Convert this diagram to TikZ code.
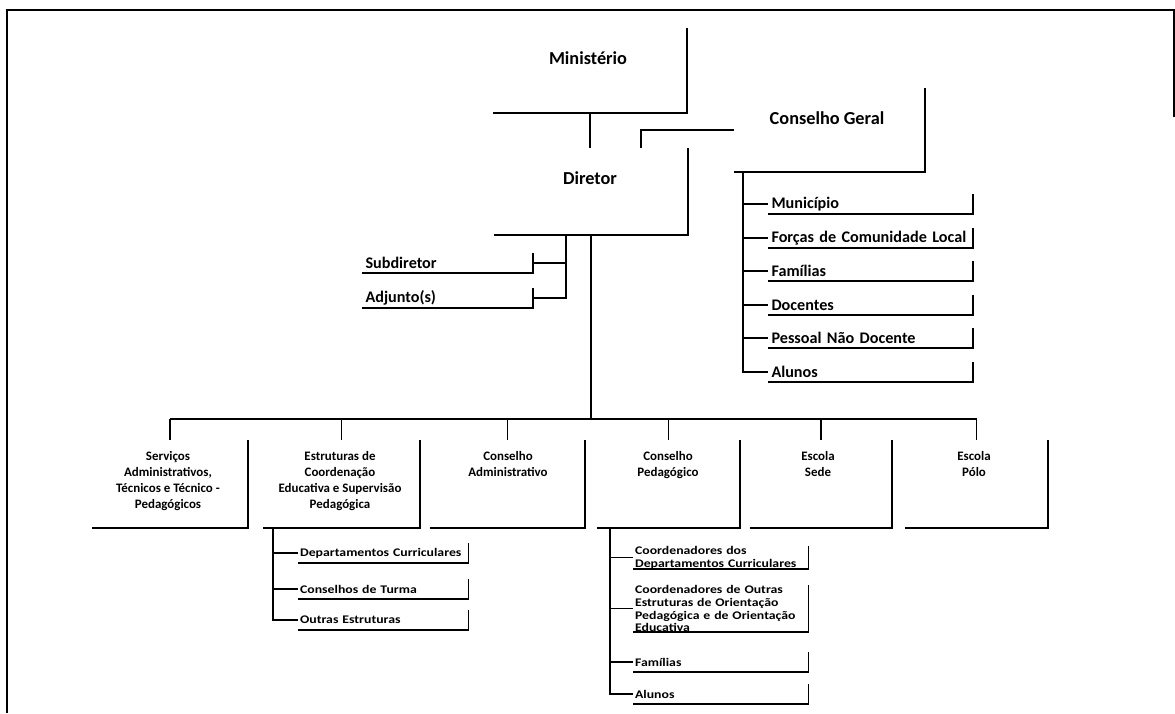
\documentclass[tikz,border=0pt]{standalone}
\usepackage{fontspec}
\setmainfont{Carlito}
\newfontfamily\widefont[FakeStretch=1.18]{Carlito}
\begin{document}
\begin{tikzpicture}[x=0.025cm,y=-0.025cm,
	wire/.style={line width=1.2pt},
	rim/.style={line width=0.9pt},
	box/.style={inner sep=0pt,outer sep=0pt},
	big/.style={font=\bfseries\fontsize{13}{15}\selectfont},
	unit/.style={font=\bfseries\fontsize{9.2}{11.3}\selectfont,align=center,anchor=north,inner sep=0pt},
	item/.style={font=\bfseries\fontsize{11.5}{13}\selectfont,text width=#1,align=left,inner xsep=2.5pt,inner ysep=0pt,minimum height=0.5cm,outer sep=0pt,anchor=west},
	lowitem/.style={item=#1,inner xsep=1.5pt,font=\widefont\bfseries\fontsize{8.3}{9.2}\selectfont}]
	\useasboundingbox (0,0) rectangle (1175,713);
	\draw[line width=1.2pt] (1174,117) -- (1174,10) -- (7,10) -- (7,713);
	
	% top boxes
	\node[box,minimum width=4.85cm,minimum height=2.125cm] (min) at (590,70.5) {};
	\node[big] (minT) at (588,58) {Ministério};
	\node[box,minimum width=4.775cm,minimum height=2.1cm] (cg) at (829.5,130) {};
	\node[big] (cgT) at (827,118) {Conselho Geral};
	\node[box,minimum width=4.85cm,minimum height=2.175cm] (dir) at (591,191.5) {};
	\node[big] (dirT) at (590,178) {Diretor};
	
	\node[item=4.1cm] (subd) at (362,263) {Subdiretor};
	\node[item=4.1cm] (adj) at (362,298) {Adjunto(s)};
	
	% conselho geral list
	\node[item=4.95cm] (gMun) at (768,204) {Município};
	\node[item=4.95cm] (gFor) at (768,238) {Forças de Comunidade Local};
	\node[item=4.95cm] (gFam) at (768,271) {Famílias};
	\node[item=4.95cm] (gDoc) at (768,305) {Docentes};
	\node[item=4.95cm] (gPes) at (768,338) {Pessoal Não Docente};
	\node[item=4.95cm] (gAlu) at (768,372) {Alunos};
	
	% bottom row
	\node[box,minimum width=3.9cm,minimum height=2.2cm] (sv) at (170,484) {};
	\node[box,minimum width=3.925cm,minimum height=2.2cm] (ec) at (341.5,484) {};
	\node[box,minimum width=3.875cm,minimum height=2.2cm] (ca) at (507.5,484) {};
	\node[box,minimum width=3.575cm,minimum height=2.2cm] (cp) at (668.5,484) {};
	\node[box,minimum width=3.55cm,minimum height=2.2cm] (es) at (821,484) {};
	\node[box,minimum width=3.575cm,minimum height=2.2cm] (ep) at (976.5,484) {};
	\node[unit] (svT) at (168,451) {Serviços\\Administrativos,\\Técnicos e Técnico -\\Pedagógicos};
	\node[unit] (ecT) at (340,451) {Estruturas de\\Coordenação\\Educativa e Supervisão\\Pedagógica};
	\node[unit] (caT) at (508,451) {Conselho\\Administrativo};
	\node[unit] (cpT) at (668,451) {Conselho\\Pedagógico};
	\node[unit] (esT) at (818,451) {Escola\\Sede};
	\node[unit] (epT) at (974,451) {Escola\\Pólo};
	
	% lower lists
	\node[lowitem=4.15cm] (eDep) at (298,553) {Departamentos Curriculares};
	\node[lowitem=4.15cm] (eTur) at (298,589) {Conselhos de Turma};
	\node[lowitem=4.15cm] (eOut) at (298,620) {Outras Estruturas};
	\node[lowitem=4.28cm] (pDep) at (633,557.5) {Coordenadores dos\\Departamentos Curriculares};
	\node[lowitem=4.28cm] (pOut) at (633,608.5) {Coordenadores de Outras\\Estruturas de Orientação\\Pedagógica e de Orientação\\Educativa};
	\node[lowitem=4.28cm] (pFam) at (633,662) {Famílias};
	\node[lowitem=4.28cm] (pAlu) at (633,694) {Alunos};
	
	\foreach \n in {min,cg,dir,subd,adj,gMun,gFor,gFam,gDoc,gPes,gAlu,sv,ec,ca,cp,es,ep,eDep,eTur,eOut,pDep,pOut,pFam,pAlu}
		\draw[rim] (\n.south west) -- (\n.south east) -- (\n.north east);
	
	% connectors
	\draw[wire] (min.south) -- (min.south |- dir.north);
	\draw[wire] (cg.west) -| ([xshift=1.25cm]dir.north);
	
	\coordinate (dsplit) at (566,235);
	\draw[wire] (dsplit) |- (adj.east);
	\draw[wire] (subd.east) -- (subd.east -| dsplit);
	
	\coordinate (gsplit) at (743,172);
	\draw[wire] (gsplit) |- (gAlu.west);
	\foreach \n in {gMun,gFor,gFam,gDoc,gPes}
		\draw[wire] (\n.west -| gsplit) -- (\n.west);
	
	\coordinate (bus) at (591,419);
	\draw[wire] (dir.south) -- (bus);
	\draw[wire] (sv.north |- bus) -- (ep.north |- bus);
	\foreach \n in {sv,ec,ca,cp,es,ep}
		\draw[wire] (\n.north |- bus) -- (\n.north);
	
	\coordinate (esplit) at (273,528);
	\draw[wire] (esplit) |- (eOut.west);
	\foreach \n in {eDep,eTur}
		\draw[wire] (\n.west -| esplit) -- (\n.west);
	
	\coordinate (psplit) at (610,528);
	\draw[wire] (psplit) |- (pAlu.west);
	\foreach \n in {pDep,pOut,pFam}
		\draw[wire] (\n.west -| psplit) -- (\n.west);
\end{tikzpicture}
\end{document}
